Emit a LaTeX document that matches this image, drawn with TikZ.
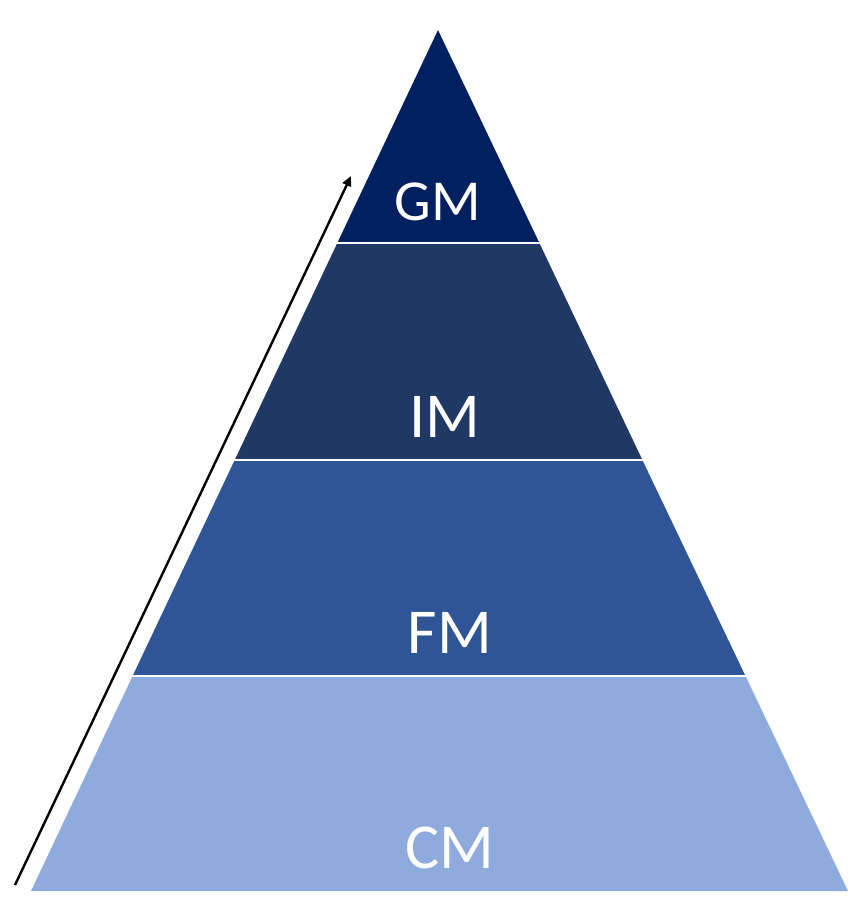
\documentclass[tikz,border=0pt]{standalone}
\usepackage{fontspec}
\setmainfont{Carlito}
\usepackage{xcolor}
\usetikzlibrary{arrows.meta}

\definecolor{gmblue}{HTML}{002060}
\definecolor{imblue}{HTML}{203864}
\definecolor{fmblue}{HTML}{2F5597}
\definecolor{cmblue}{HTML}{8FAADC}

\begin{document}
\begin{tikzpicture}[x=1pt,y=-1pt,>=Triangle,
 layer/.style={draw=white,line width=2pt,line join=miter},
 lbl/.style={text=white,anchor=base,inner sep=0pt,font=\fontsize{64}{64}\selectfont},
 link/.style={->,line width=2.4pt,shorten >=0pt}]
 \useasboundingbox (0,0) rectangle (858,911);
 % pyramid layers, bottom to top
 \fill[cmblue] (31,891) -- (848,891) -- (745.5,676) -- (132.6,676) -- cycle;
 \fill[fmblue] (132.6,676) -- (745.5,676) -- (642.4,460) -- (234.7,460) -- cycle;
 \fill[imblue] (234.7,460) -- (642.4,460) -- (539.4,243) -- (337.3,243) -- cycle;
 \fill[gmblue] (337.3,243) -- (539.4,243) -- (438,30) -- cycle;
 \draw[white,line width=2pt] (129,676) -- (749,676);
 \draw[white,line width=2pt] (231,460) -- (646,460);
 \draw[white,line width=2pt] (334,243) -- (543,243);
 % labels
 \node[lbl,font=\fontsize{58}{58}\selectfont] (gm) at (438,220) {GM};
 \node[lbl] (im) at (445,437) {IM};
 \node[lbl] (fm) at (450,653) {FM};
 \node[lbl] (cm) at (450,868) {CM};
 % arrow along the left side
 \coordinate (tail) at (15,885);
 \coordinate (head) at (351,176);
 \draw[link,-{Triangle[length=10pt,width=9pt]}] (tail) -- (head);
\end{tikzpicture}
\end{document}
